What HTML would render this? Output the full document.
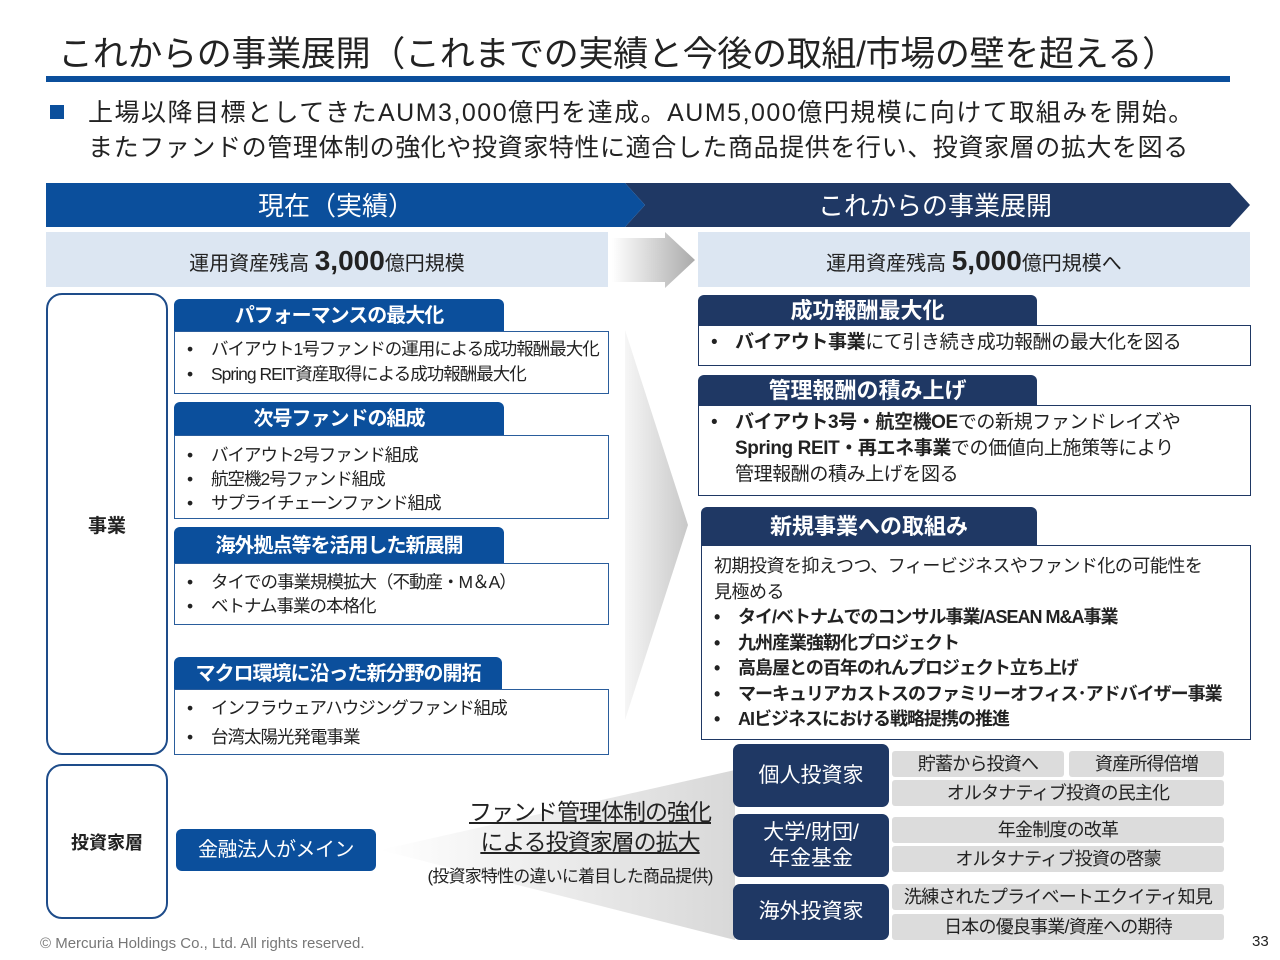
<!DOCTYPE html>
<html><head><meta charset="utf-8">
<style>
*{margin:0;padding:0;box-sizing:border-box}
body{width:1280px;height:960px;background:#fff;position:relative;overflow:hidden;font-family:"Liberation Sans","Noto Sans CJK JP",sans-serif;color:#222}
.a{position:absolute;white-space:nowrap}
.tabL{position:absolute;background:#0b4f9c;color:#fff;font-weight:bold;font-size:20px;text-align:center;border-radius:6px 6px 0 0;letter-spacing:-1px;white-space:nowrap}
.tabR{position:absolute;background:#1f3864;color:#fff;font-weight:bold;font-size:22px;text-align:center;border-radius:6px 6px 0 0;white-space:nowrap}
.boxL{position:absolute;border:1.5px solid #2a5d9c;background:#fff;font-size:17.5px;line-height:25px;padding:5px 0 0 12px;white-space:nowrap;letter-spacing:-1px;overflow:hidden}
.boxR{position:absolute;border:1.5px solid #1f3864;background:#fff;font-size:19px;line-height:26px;padding:4px 0 0 12px;white-space:nowrap;letter-spacing:-0.4px;overflow:hidden}
.bl span{display:inline-block;width:24px;letter-spacing:0}
.nv{position:absolute;left:733px;width:156px;background:#1f3864;color:#fff;font-size:21px;border-radius:7px;display:flex;align-items:center;justify-content:center;text-align:center;line-height:26px}
.gr{position:absolute;background:#dcdcdc;font-size:18px;text-align:center;border-radius:3px;height:26px;line-height:26px;white-space:nowrap;letter-spacing:-0.8px}
</style></head><body>
<div class="a" style="left:58px;top:26px;font-size:35px;letter-spacing:-0.3px;color:#222">これからの事業展開（これまでの実績と今後の取組/市場の壁を超える）</div>
<div class="a" style="left:46px;top:76px;width:1184px;height:6px;background:#0b4f9c"></div>
<div class="a" style="left:50px;top:105px;width:14px;height:14px;background:#0b4f9c"></div>
<div class="a" style="left:88px;top:96px;font-size:25px;line-height:35px"><div style="letter-spacing:1.5px">上場以降目標としてきたAUM3,000億円を達成。AUM5,000億円規模に向けて取組みを開始。</div><div style="letter-spacing:0.6px">またファンドの管理体制の強化や投資家特性に適合した商品提供を行い、投資家層の拡大を図る</div></div>

<svg class="a" style="left:0;top:0" width="1280" height="960">
<defs>
<linearGradient id="g1" x1="0" x2="1"><stop offset="0" stop-color="#fff"/><stop offset="1" stop-color="#aaa"/></linearGradient>
<linearGradient id="g2" x1="0" x2="1"><stop offset="0" stop-color="#f6f6f6"/><stop offset="1" stop-color="#c8c8c8"/></linearGradient>
<linearGradient id="g3" x1="0" x2="1"><stop offset="0" stop-color="#fff"/><stop offset="1" stop-color="#d8d8d8"/></linearGradient>
</defs>
<polygon points="625,183 1230,183 1250,205 1230,227 625,227 645,205" fill="#1f3864"/>
<polygon points="46,183 625,183 645,205 625,227 46,227" fill="#0b4f9c"/>
<polygon points="612,238 665,238 665,232 695,260 665,288 665,282 612,282" fill="url(#g1)"/>
<polygon points="625,330 688,525 625,720" fill="url(#g2)"/>
<polygon points="380,850 735,770 735,940" fill="url(#g3)"/>
</svg>
<div class="a" style="left:46px;top:186px;width:580px;text-align:center;color:#fff;font-size:26px">現在（実績）</div>
<div class="a" style="left:640px;top:186px;width:590px;text-align:center;color:#fff;font-size:26px">これからの事業展開</div>

<div class="a" style="left:46px;top:232px;width:562px;height:55px;background:#dce6f2;text-align:center;line-height:58px;font-size:20px">運用資産残高 <b style="font-size:28px">3,000</b>億円規模</div>
<div class="a" style="left:698px;top:232px;width:552px;height:55px;background:#dce6f2;text-align:center;line-height:58px;font-size:20px">運用資産残高 <b style="font-size:28px">5,000</b>億円規模へ</div>

<div class="a" style="left:46px;top:293px;width:122px;height:462px;border:2px solid #1e4c8a;border-radius:16px;display:flex;align-items:center;justify-content:center;font-weight:bold;font-size:19px">事業</div>
<div class="a" style="left:46px;top:764px;width:122px;height:155px;border:2px solid #1e4c8a;border-radius:16px;display:flex;align-items:center;justify-content:center;font-weight:bold;font-size:18px">投資家層</div>

<div class="tabL" style="left:174px;top:299px;width:330px;height:33px;line-height:34px">パフォーマンスの最大化</div>
<div class="boxL" style="left:174px;top:331px;width:435px;height:63px" ><div class="bl"><span>•</span>バイアウト1号ファンドの運用による成功報酬最大化</div><div class="bl"><span>•</span>Spring REIT資産取得による成功報酬最大化</div></div>
<div class="tabL" style="left:174px;top:402px;width:330px;height:34px;line-height:34px">次号ファンドの組成</div>
<div class="boxL" style="left:174px;top:435px;width:435px;height:84px;line-height:24px;padding-top:7px"><div class="bl"><span>•</span>バイアウト2号ファンド組成</div><div class="bl"><span>•</span>航空機2号ファンド組成</div><div class="bl"><span>•</span>サプライチェーンファンド組成</div></div>
<div class="tabL" style="left:174px;top:527px;width:330px;height:37px;line-height:38px">海外拠点等を活用した新展開</div>
<div class="boxL" style="left:174px;top:563px;width:435px;height:62px;line-height:24px;padding-top:6px"><div class="bl"><span>•</span>タイでの事業規模拡大（不動産・M＆A）</div><div class="bl"><span>•</span>ベトナム事業の本格化</div></div>
<div class="tabL" style="left:174px;top:657px;width:328px;height:33px;line-height:34px">マクロ環境に沿った新分野の開拓</div>
<div class="boxL" style="left:174px;top:689px;width:435px;height:66px;line-height:29px;padding-top:4px"><div class="bl"><span>•</span>インフラウェアハウジングファンド組成</div><div class="bl"><span>•</span>台湾太陽光発電事業</div></div>

<div class="tabR" style="left:698px;top:295px;width:339px;height:31px;line-height:32px">成功報酬最大化</div>
<div class="boxR" style="left:698px;top:325px;width:553px;height:41px"><div class="bl"><span>•</span><b>バイアウト事業</b>にて引き続き成功報酬の最大化を図る</div></div>
<div class="tabR" style="left:698px;top:375px;width:339px;height:31px;line-height:32px">管理報酬の積み上げ</div>
<div class="boxR" style="left:698px;top:405px;width:553px;height:91px"><div class="bl"><span>•</span><b>バイアウト3号・航空機OE</b>での新規ファンドレイズや</div><div style="padding-left:24px"><b>Spring REIT・再エネ事業</b>での価値向上施策等により</div><div style="padding-left:24px">管理報酬の積み上げを図る</div></div>
<div class="tabR" style="left:701px;top:507px;width:336px;height:39px;line-height:40px">新規事業への取組み</div>
<div class="boxR" style="left:701px;top:545px;width:550px;height:195px;padding-top:8px;line-height:25.5px;font-size:18px;letter-spacing:-0.5px"><div>初期投資を抑えつつ、フィービジネスやファンド化の可能性を<br>見極める</div><b style="letter-spacing:-1px"><div class="bl"><span>•</span>タイ/ベトナムでのコンサル事業/ASEAN M&amp;A事業</div><div class="bl"><span>•</span>九州産業強靭化プロジェクト</div><div class="bl"><span>•</span>高島屋との百年のれんプロジェクト立ち上げ</div><div class="bl"><span>•</span>マーキュリアカストスのファミリーオフィス･アドバイザー事業</div><div class="bl"><span>•</span>AIビジネスにおける戦略提携の推進</div></b></div>

<div class="a" style="left:176px;top:829px;width:200px;height:42px;background:#0b4f9c;border-radius:6px;color:#fff;font-size:20px;text-align:center;line-height:42px;letter-spacing:-0.5px">金融法人がメイン</div>
<div class="a" style="left:440px;top:797px;width:300px;text-align:center;font-size:23px;line-height:30px;text-decoration:underline;letter-spacing:-1px">ファンド管理体制の強化<br>による投資家層の拡大</div>
<div class="a" style="left:405px;top:862px;width:330px;text-align:center;font-size:17px;letter-spacing:-0.8px">(投資家特性の違いに着目した商品提供)</div>

<div class="nv" style="top:744px;height:63px">個人投資家</div>
<div class="nv" style="top:814px;height:63px">大学/財団/<br>年金基金</div>
<div class="nv" style="top:884px;height:56px">海外投資家</div>
<div class="gr" style="left:892px;top:751px;width:172px">貯蓄から投資へ</div>
<div class="gr" style="left:1069px;top:751px;width:155px">資産所得倍増</div>
<div class="gr" style="left:892px;top:780px;width:332px">オルタナティブ投資の民主化</div>
<div class="gr" style="left:892px;top:817px;width:332px">年金制度の改革</div>
<div class="gr" style="left:892px;top:846px;width:332px">オルタナティブ投資の啓蒙</div>
<div class="gr" style="left:892px;top:884px;width:332px">洗練されたプライベートエクイティ知見</div>
<div class="gr" style="left:892px;top:914px;width:332px">日本の優良事業/資産への期待</div>

<div class="a" style="left:40px;top:935px;font-size:15px;color:#777">© Mercuria Holdings Co., Ltd. All rights reserved.</div>
<div class="a" style="left:1252px;top:933px;font-size:15px;color:#222">33</div>
</body></html>
